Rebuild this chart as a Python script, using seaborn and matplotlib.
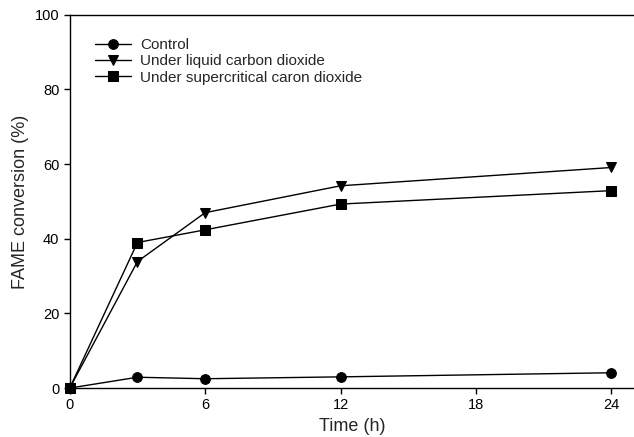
import pandas as pd
import seaborn as sns
import matplotlib.pyplot as plt

time_h = [0, 3, 6, 12, 24]
control = [0, 2.9, 2.5, 3.0, 4.1]
liquid_co2 = [0, 33.9, 47.0, 54.2, 59.1]
supercritical_co2 = [0, 39.0, 42.4, 49.3, 52.9]
series_names = ['Control', 'Under liquid carbon dioxide', 'Under supercritical caron dioxide']

# long format for seaborn
df = pd.concat([
    pd.DataFrame({'Time': time_h, 'FAME': vals, 'Series': name})
    for name, vals in zip(series_names, [control, liquid_co2, supercritical_co2])
])

sns.set_style('ticks')
plt.rcParams['font.family'] = ['Liberation Sans', 'DejaVu Sans']

fig = plt.figure(figsize=(6.34, 4.37), dpi=100)
ax = fig.add_axes([0.110, 0.112, 0.89, 0.854])

sns.lineplot(data=df, x='Time', y='FAME', hue='Series', style='Series',
             palette=['black'] * 3, markers=['o', 'v', 's'], dashes=False,
             markersize=7, linewidth=1, markeredgecolor='black', ax=ax,
             clip_on=False, zorder=3)

ax.set_xlim(0, 25)
ax.set_ylim(0, 100)
ax.set_xticks([0, 6, 12, 18, 24])
ax.set_yticks([0, 20, 40, 60, 80, 100])
ax.tick_params(direction='out', length=4, width=1, labelsize=10.5, colors='black')
ax.set_xlabel('Time (h)', fontsize=13)
ax.set_ylabel('FAME conversion (%)', fontsize=13)

for s in ['left', 'bottom', 'top']:
    ax.spines[s].set_color('black')
    ax.spines[s].set_linewidth(1)
ax.spines['right'].set_visible(False)

leg = ax.legend(loc='upper left', bbox_to_anchor=(0.02, 0.975), frameon=False,
                fontsize=11, handlelength=2.35, handletextpad=0.6,
                labelspacing=0.15, title=None)

fig.savefig('out.png', dpi=100)
